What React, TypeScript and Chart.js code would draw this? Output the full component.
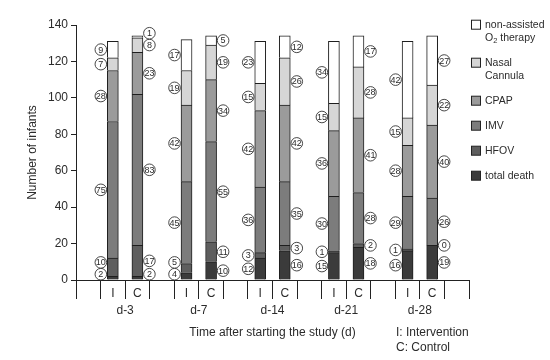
import React, { useEffect, useRef } from 'react';
import { Chart, registerables } from 'chart.js';
Chart.register(...registerables);

const FONT = '"Liberation Sans", Arial, Helvetica, sans-serif';
const TEXT = '#2b2b2b';

// Time points (groups) and arms
const groups = ['d-3', 'd-7', 'd-14', 'd-21', 'd-28'];
const arms = ['I', 'C'];

// Series, bottom to top of each stack
const seriesNames = ['total death', 'HFOV', 'IMV', 'CPAP', 'Nasal Cannula', 'non-assisted O2 therapy'];

// Intervention arm counts per time point
const deathI = [2, 4, 12, 15, 16];
const hfovI = [10, 5, 3, 1, 1];
const imvI = [75, 45, 36, 30, 29];
const cpapI = [28, 42, 42, 36, 28];
const nasalI = [7, 19, 15, 15, 15];
const o2I = [9, 17, 23, 34, 42];

// Control arm counts per time point
const deathC = [2, 10, 16, 18, 19];
const hfovC = [17, 11, 3, 2, 0];
const imvC = [83, 55, 35, 28, 26];
const cpapC = [23, 34, 42, 41, 40];
const nasalC = [8, 19, 26, 28, 22];
const o2C = [1, 5, 12, 17, 27];

// Y axis
const yTicksMax = 140;
const yStep = 20;

const seriesColors = ['#3b3b3b', '#5e5e5e', '#7c7c7c', '#9b9b9b', '#d6d6d6', '#ffffff'];

const interventionSeries = [deathI, hfovI, imvI, cpapI, nasalI, o2I];
const controlSeries = [deathC, hfovC, imvC, cpapC, nasalC, o2C];

type Slot = null | { g: number; arm: string };
const slots: Slot[] = [];
const slotLabels: string[] = [];
groups.forEach((_, g) => {
  slots.push(null);
  slotLabels.push('');
  arms.forEach((arm) => {
    slots.push({ g, arm });
    slotLabels.push(arm);
  });
});
slots.push(null);
slotLabels.push('');

const legendEntries: { lines: string[]; color: string }[] = [
  { lines: ['non-assisted', 'O2 therapy'], color: seriesColors[5] },
  { lines: ['Nasal', 'Cannula'], color: seriesColors[4] },
  { lines: ['CPAP'], color: seriesColors[3] },
  { lines: ['IMV'], color: seriesColors[2] },
  { lines: ['HFOV'], color: seriesColors[1] },
  { lines: ['total death'], color: seriesColors[0] },
];

const annotate = {
  id: 'annotate',
  afterDatasetsDraw(chart: any) {
    const ctx = chart.ctx as CanvasRenderingContext2D;
    const area = chart.chartArea;
    const xs = chart.scales.x;
    ctx.save();

    // circled counts
    slots.forEach((slot, j) => {
      if (!slot) return;
      let prev: number | null = null;
      for (let s = 0; s < seriesNames.length; s++) {
        const el = chart.getDatasetMeta(s).data[j];
        const v = chart.data.datasets[s].data[j];
        if (!el || v === null) continue;
        const p = el.getProps(['x', 'y', 'base'], true);
        let cy = (p.y + p.base) / 2;
        if (prev === null) cy = Math.min(cy, area.bottom - 5.8);
        else cy = Math.min(cy, prev - 11.8);
        prev = cy;
        const cx = p.x + (slot.arm === 'I' ? -12 : 12);
        ctx.beginPath();
        ctx.arc(cx, cy, 5.8, 0, Math.PI * 2);
        ctx.fillStyle = '#ffffff';
        ctx.fill();
        ctx.lineWidth = 0.9;
        ctx.strokeStyle = '#333';
        ctx.stroke();
        ctx.fillStyle = TEXT;
        ctx.font = `9px ${FONT}`;
        ctx.textAlign = 'center';
        ctx.textBaseline = 'middle';
        ctx.fillText(String(v), cx, cy + 0.5, 10);
      }
    });

    // group labels centred between I and C slots
    ctx.fillStyle = TEXT;
    ctx.font = `12px ${FONT}`;
    ctx.textAlign = 'center';
    ctx.textBaseline = 'middle';
    groups.forEach((name, g) => {
      const iIdx = slots.findIndex((s) => s && s.g === g && s.arm === 'I');
      const cIdx = slots.findIndex((s) => s && s.g === g && s.arm === 'C');
      const gx = (xs.getPixelForValue(iIdx) + xs.getPixelForValue(cIdx)) / 2;
      ctx.fillText(name, gx, area.bottom + 31);
    });

    // x title
    ctx.fillText('Time after starting the study (d)', (area.left + area.right) / 2, area.bottom + 53);

    // arm notes
    ctx.textAlign = 'left';
    ctx.fillText('I: Intervention', 396, area.bottom + 53);
    ctx.fillText('C: Control', 396, area.bottom + 68);

    // legend
    let ly = 24.7;
    const lx = 471;
    legendEntries.forEach((e) => {
      ctx.fillStyle = e.color;
      ctx.fillRect(lx + 0.5, ly - 4.5, 9, 9);
      ctx.lineWidth = 1;
      ctx.strokeStyle = '#222';
      ctx.strokeRect(lx + 0.5, ly - 4.5, 9, 9);
      ctx.fillStyle = TEXT;
      ctx.textAlign = 'left';
      ctx.textBaseline = 'middle';
      e.lines.forEach((line, k) => {
        const ty = ly + k * 13;
        ctx.font = `10.5px ${FONT}`;
        if (line.startsWith('O2')) {
          ctx.fillText('O', 485, ty);
          const w = ctx.measureText('O').width;
          ctx.font = `7.5px ${FONT}`;
          ctx.fillText('2', 485 + w, ty + 3);
          const w2 = ctx.measureText('2').width;
          ctx.font = `10.5px ${FONT}`;
          ctx.fillText(line.slice(2), 485 + w + w2, ty);
        } else {
          ctx.fillText(line, 485, ty);
        }
      });
      ly += 25 + 13 * (e.lines.length - 1);
    });

    ctx.restore();
  },
};

export default function App() {
  const ref = useRef<HTMLCanvasElement>(null);
  useEffect(() => {
    if (!ref.current) return;
    const datasets = seriesNames.map((name, s) => ({
      label: name,
      data: slots.map((slot) =>
        slot ? (slot.arm === 'I' ? interventionSeries[s][slot.g] : controlSeries[s][slot.g]) : null
      ),
      backgroundColor: seriesColors[s],
      borderColor: '#1e1e1e',
      borderWidth: 1,
      barThickness: 11,
    }));
    const chart = new Chart(ref.current, {
      type: 'bar',
      data: { labels: slotLabels, datasets },
      options: {
        responsive: false,
        animation: false,
        layout: { padding: { top: 25, right: 81, left: 0, bottom: 0 } },
        plugins: { legend: { display: false }, tooltip: { enabled: false } },
        scales: {
          x: {
            stacked: true,
            offset: true,
            afterFit: (scale: any) => {
              scale.height = 80;
            },
            grid: {
              offset: true,
              drawOnChartArea: false,
              drawTicks: true,
              tickLength: 19,
              color: '#222',
              lineWidth: 1,
            },
            border: { display: true, color: '#222', width: 1 },
            ticks: {
              autoSkip: false,
              maxRotation: 0,
              padding: -13,
              color: TEXT,
              font: { family: FONT, size: 12 },
            },
          },
          y: {
            stacked: true,
            min: 0,
            max: yTicksMax,
            afterFit: (scale: any) => {
              scale.width = 76;
            },
            grid: {
              drawOnChartArea: false,
              drawTicks: true,
              tickLength: 5,
              color: '#222',
            },
            border: { display: true, color: '#222', width: 1 },
            ticks: {
              stepSize: yStep,
              padding: 3,
              color: TEXT,
              font: { family: FONT, size: 12 },
            },
            title: {
              display: true,
              text: 'Number of infants',
              color: TEXT,
              font: { family: FONT, size: 12 },
              padding: { top: 25, bottom: 0 },
            },
          },
        },
      },
      plugins: [annotate],
    });
    return () => chart.destroy();
  }, []);
  return (
    <div style={{ position: 'fixed', left: 0, top: 0, width: 550, height: 360, background: '#fff' }}>
      <canvas ref={ref} width={550} height={360} style={{ display: 'block' }} />
    </div>
  );
}
